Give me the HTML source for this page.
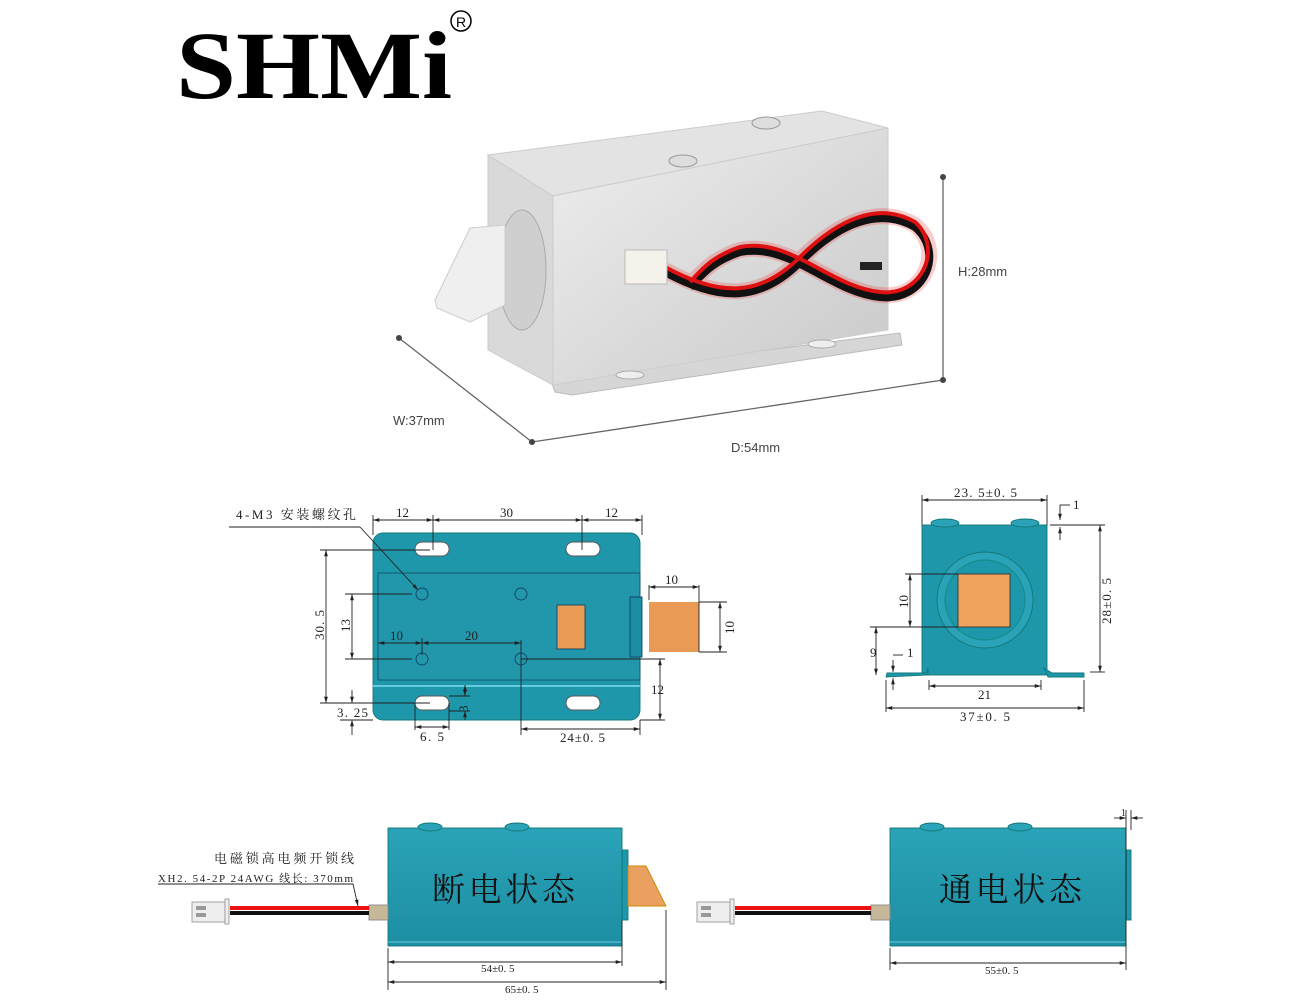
<!DOCTYPE html>
<html><head><meta charset="utf-8"><style>
html,body{margin:0;padding:0;background:#fff;}
svg{display:block;}
.s{font-family:"Liberation Serif","Noto Serif CJK SC",serif;fill:#222;}
.a{font-family:"Liberation Sans",sans-serif;fill:#444;font-size:13px;}
</style></head><body>
<svg width="1309" height="1000" viewBox="0 0 1309 1000" xmlns="http://www.w3.org/2000/svg">
<defs>
<marker id="ar" viewBox="0 0 10 10" refX="10" refY="5" markerWidth="7" markerHeight="7" orient="auto-start-reverse"><path d="M0,2 L10,5 L0,8 z" fill="#222"/></marker>
<linearGradient id="met" x1="0" y1="0" x2="1" y2="1"><stop offset="0" stop-color="#eeeeee"/><stop offset="1" stop-color="#c9c9c9"/></linearGradient>
<linearGradient id="tl" x1="0" y1="0" x2="0" y2="1"><stop offset="0" stop-color="#2aa3b8"/><stop offset="1" stop-color="#1d8ea3"/></linearGradient>
</defs>

<!-- Logo -->
<text x="176" y="98" font-family="Liberation Serif,serif" font-weight="bold" font-size="96" textLength="276" lengthAdjust="spacingAndGlyphs" fill="#000">SHMi</text>
<circle cx="461" cy="21" r="10" fill="none" stroke="#000" stroke-width="1.5"/>
<text x="461" y="27" font-family="Liberation Sans,sans-serif" font-size="14" text-anchor="middle">R</text>

<!-- Product photo -->
<g>
<line x1="399" y1="338" x2="532" y2="442" stroke="#666" stroke-width="1.3"/>
<line x1="532" y1="442" x2="943" y2="380" stroke="#666" stroke-width="1.3"/>
<line x1="943" y1="177" x2="943" y2="380" stroke="#666" stroke-width="1.3"/>
<circle cx="399" cy="338" r="3" fill="#444"/><circle cx="532" cy="442" r="3" fill="#444"/>
<circle cx="943" cy="380" r="3" fill="#444"/><circle cx="943" cy="177" r="3" fill="#444"/>
<polygon points="550,378 900,333 902,345 572,395 555,392" fill="#d6d6d6" stroke="#bbb"/>
<polygon points="488,155 822,111 888,128 553,196" fill="#e3e3e3" stroke="#ccc"/>
<polygon points="553,196 888,128 888,330 553,385" fill="url(#met)" stroke="#ccc"/>
<polygon points="488,155 553,196 553,385 488,350" fill="#d9d9d9" stroke="#ccc"/>
<ellipse cx="522" cy="270" rx="24" ry="60" fill="#cfcfcf" stroke="#aaa"/>
<polygon points="435,300 470,228 505,225 505,305 470,322 437,308" fill="#efefef" stroke="#ccc"/>
<ellipse cx="683" cy="161" rx="14" ry="6" fill="#ddd" stroke="#999"/>
<ellipse cx="766" cy="123" rx="14" ry="6" fill="#ddd" stroke="#999"/>
<ellipse cx="630" cy="375" rx="14" ry="4" fill="#eee" stroke="#aaa"/>
<ellipse cx="822" cy="344" rx="14" ry="4" fill="#eee" stroke="#aaa"/>
<path d="M665,270 C720,300 760,300 800,260 C840,220 880,205 915,225 C945,250 925,300 880,295 C830,290 790,240 740,250 C710,260 700,275 690,285" fill="none" stroke="#e33" stroke-width="16" opacity="0.25"/>
<path d="M665,272 C720,302 760,302 800,262 C840,222 880,207 915,227 C945,252 925,302 880,297 C830,292 790,242 740,252 C710,262 700,277 690,287" fill="none" stroke="#111" stroke-width="8"/>
<path d="M665,267 C720,297 760,297 800,257 C840,217 880,202 915,222 C943,247 923,297 880,292 C830,287 790,237 740,247 C710,257 700,272 690,282" fill="none" stroke="#d11" stroke-width="4"/>
<rect x="625" y="250" width="42" height="34" fill="#f4f2ea" stroke="#bbb"/>
<rect x="860" y="262" width="22" height="8" fill="#222"/>
<text x="958" y="276" class="a">H:28mm</text>
<text x="393" y="425" class="a">W:37mm</text>
<text x="731" y="452" class="a">D:54mm</text>
</g>

<g stroke="#222" stroke-width="0.9" fill="none">
<!-- Front view -->
<rect x="373" y="533" width="267" height="187" rx="10" fill="#1f97ab" stroke="#177"/>
<rect x="378" y="573" width="262" height="107" fill="#2296aa" stroke="#156"/>
<line x1="373" y1="686" x2="640" y2="686" stroke="#6cd" stroke-width="2"/>
<rect x="415" y="542" width="34" height="14" rx="7" fill="#fff" stroke="#555"/>
<rect x="566" y="542" width="34" height="14" rx="7" fill="#fff" stroke="#555"/>
<rect x="415" y="696" width="34" height="14" rx="7" fill="#fff" stroke="#555"/>
<rect x="566" y="696" width="34" height="14" rx="7" fill="#fff" stroke="#555"/>
<circle cx="422" cy="594" r="6" stroke="#146"/><circle cx="521" cy="594" r="6" stroke="#146"/>
<circle cx="422" cy="659" r="6" stroke="#146"/><circle cx="521" cy="659" r="6" stroke="#146"/>
<rect x="557" y="605" width="28" height="44" fill="#e99a55" stroke="#146"/>
<rect x="649" y="602" width="50" height="50" fill="#e99a55" stroke="none"/>
<rect x="630" y="597" width="12" height="60" fill="#1a8ea2" stroke="#146"/>
<line x1="373" y1="515" x2="373" y2="535"/><line x1="433" y1="515" x2="433" y2="550"/><line x1="582" y1="515" x2="582" y2="550"/><line x1="642" y1="515" x2="642" y2="535"/>
<line x1="373" y1="520" x2="433" y2="520" marker-start="url(#ar)" marker-end="url(#ar)"/>
<line x1="433" y1="520" x2="582" y2="520" marker-start="url(#ar)" marker-end="url(#ar)"/>
<line x1="582" y1="520" x2="642" y2="520" marker-start="url(#ar)" marker-end="url(#ar)"/>
<line x1="229" y1="527" x2="360" y2="527"/><line x1="360" y1="527" x2="418" y2="590" marker-end="url(#ar)"/>
<line x1="320" y1="550" x2="430" y2="550"/><line x1="320" y1="703" x2="430" y2="703"/>
<line x1="326" y1="550" x2="326" y2="703" marker-start="url(#ar)" marker-end="url(#ar)"/>
<line x1="345" y1="594" x2="412" y2="594"/><line x1="345" y1="659" x2="412" y2="659"/>
<line x1="352" y1="594" x2="352" y2="659" marker-start="url(#ar)" marker-end="url(#ar)"/>
<line x1="378" y1="643" x2="422" y2="643" marker-start="url(#ar)" marker-end="url(#ar)"/>
<line x1="422" y1="643" x2="521" y2="643" marker-start="url(#ar)" marker-end="url(#ar)"/>
<line x1="422" y1="638" x2="422" y2="655"/><line x1="521" y1="640" x2="521" y2="735"/>
<line x1="352" y1="690" x2="352" y2="703" marker-end="url(#ar)"/><line x1="352" y1="735" x2="352" y2="720" marker-end="url(#ar)"/>
<line x1="340" y1="720" x2="373" y2="720"/>
<line x1="465" y1="685" x2="465" y2="696" marker-start="url(#ar)" marker-end="url(#ar)"/>
<line x1="449" y1="696" x2="470" y2="696"/><line x1="449" y1="711" x2="470" y2="711"/><line x1="465" y1="711" x2="465" y2="720" marker-start="url(#ar)"/>
<line x1="415" y1="703" x2="415" y2="730"/><line x1="449" y1="703" x2="449" y2="730"/>
<line x1="415" y1="727" x2="449" y2="727" marker-start="url(#ar)" marker-end="url(#ar)"/>
<line x1="640" y1="720" x2="640" y2="735"/>
<line x1="521" y1="729" x2="640" y2="729" marker-start="url(#ar)" marker-end="url(#ar)"/>
<line x1="521" y1="659" x2="665" y2="659"/><line x1="640" y1="720" x2="665" y2="720"/>
<line x1="660" y1="659" x2="660" y2="720" marker-start="url(#ar)" marker-end="url(#ar)"/>
<line x1="649" y1="585" x2="649" y2="600"/><line x1="699" y1="585" x2="699" y2="652"/>
<line x1="649" y1="587" x2="699" y2="587" marker-start="url(#ar)" marker-end="url(#ar)"/>
<line x1="699" y1="602" x2="727" y2="602"/><line x1="699" y1="652" x2="727" y2="652"/>
<line x1="720" y1="602" x2="720" y2="652" marker-start="url(#ar)" marker-end="url(#ar)"/>

<!-- Side view -->
<rect x="922" y="525" width="125" height="150" fill="#1f97ab" stroke="#177"/>
<path d="M887,673 L926,673 L928,668 L928,675 L886,677 z" fill="#1f97ab" stroke="#177"/>
<path d="M1044,668 L1052,673 L1084,673 L1084,677 L1048,677 z" fill="#1f97ab" stroke="#177"/>
<circle cx="985" cy="600" r="48" fill="#2aa3b8" stroke="#177"/>
<circle cx="985" cy="600" r="40" fill="#1f97ab" stroke="#188"/>
<rect x="958" y="574" width="52" height="53" fill="#f0a35c" stroke="#333"/>
<ellipse cx="945" cy="523" rx="14" ry="4" fill="#2aa3b8" stroke="#177"/>
<ellipse cx="1025" cy="523" rx="14" ry="4" fill="#2aa3b8" stroke="#177"/>
<line x1="922" y1="495" x2="922" y2="525"/><line x1="1047" y1="495" x2="1047" y2="525"/>
<line x1="922" y1="500" x2="1047" y2="500" marker-start="url(#ar)" marker-end="url(#ar)"/>
<line x1="1050" y1="525" x2="1105" y2="525"/><line x1="1090" y1="672" x2="1105" y2="672"/>
<line x1="1100" y1="525" x2="1100" y2="672" marker-start="url(#ar)" marker-end="url(#ar)"/>
<line x1="1060" y1="505" x2="1060" y2="520" marker-end="url(#ar)"/><line x1="1060" y1="540" x2="1060" y2="527" marker-end="url(#ar)"/>
<line x1="1060" y1="505" x2="1070" y2="505"/>
<line x1="905" y1="574" x2="958" y2="574"/><line x1="870" y1="627" x2="958" y2="627"/>
<line x1="910" y1="574" x2="910" y2="627" marker-start="url(#ar)" marker-end="url(#ar)"/>
<line x1="876" y1="627" x2="876" y2="675" marker-start="url(#ar)" marker-end="url(#ar)"/>
<line x1="893" y1="660" x2="893" y2="672" marker-end="url(#ar)"/><line x1="893" y1="690" x2="893" y2="678" marker-end="url(#ar)"/>
<line x1="893" y1="655" x2="903" y2="655"/>
<line x1="929" y1="680" x2="929" y2="690"/><line x1="1041" y1="680" x2="1041" y2="690"/>
<line x1="929" y1="686" x2="1041" y2="686" marker-start="url(#ar)" marker-end="url(#ar)"/>
<line x1="886" y1="680" x2="886" y2="712"/><line x1="1084" y1="680" x2="1084" y2="712"/>
<line x1="886" y1="708" x2="1084" y2="708" marker-start="url(#ar)" marker-end="url(#ar)"/>

<!-- Bottom left -->
<rect x="388" y="828" width="234" height="118" fill="url(#tl)" stroke="#177"/>
<line x1="388" y1="942" x2="622" y2="942" stroke="#6cd"/>
<ellipse cx="430" cy="827" rx="12" ry="4" fill="#2aa3b8" stroke="#177"/>
<ellipse cx="517" cy="827" rx="12" ry="4" fill="#2aa3b8" stroke="#177"/>
<rect x="622" y="850" width="6" height="70" fill="#1f97ab" stroke="#177"/>
<polygon points="628,866 646,866 666,906 628,906" fill="#e9a060" stroke="#c80"/>
<rect x="369" y="905" width="19" height="15" fill="#c8b89a" stroke="#888"/>
<line x1="230" y1="908" x2="369" y2="908" stroke="#e11" stroke-width="4"/>
<line x1="230" y1="913" x2="369" y2="913" stroke="#111" stroke-width="4"/>
<rect x="192" y="902" width="33" height="20" fill="#eee" stroke="#999"/>
<rect x="225" y="899" width="4" height="25" fill="#eee" stroke="#999"/>
<rect x="196" y="906" width="10" height="4" fill="#999" stroke="none"/><rect x="196" y="913" width="10" height="4" fill="#999" stroke="none"/>
<line x1="158" y1="884" x2="353" y2="884"/><line x1="353" y1="884" x2="358" y2="906" marker-end="url(#ar)"/>
<line x1="388" y1="948" x2="388" y2="990"/><line x1="622" y1="920" x2="622" y2="966"/><line x1="666" y1="910" x2="666" y2="990"/>
<line x1="388" y1="962" x2="622" y2="962" marker-start="url(#ar)" marker-end="url(#ar)"/>
<line x1="388" y1="982" x2="666" y2="982" marker-start="url(#ar)" marker-end="url(#ar)"/>

<!-- Bottom right -->
<rect x="890" y="828" width="236" height="118" fill="url(#tl)" stroke="#177"/>
<line x1="890" y1="942" x2="1126" y2="942" stroke="#6cd"/>
<ellipse cx="932" cy="827" rx="12" ry="4" fill="#2aa3b8" stroke="#177"/>
<ellipse cx="1020" cy="827" rx="12" ry="4" fill="#2aa3b8" stroke="#177"/>
<rect x="1126" y="850" width="5" height="70" fill="#1f97ab" stroke="#177"/>
<rect x="871" y="905" width="19" height="15" fill="#c8b89a" stroke="#888"/>
<line x1="735" y1="908" x2="871" y2="908" stroke="#e11" stroke-width="4"/>
<line x1="735" y1="913" x2="871" y2="913" stroke="#111" stroke-width="4"/>
<rect x="697" y="902" width="33" height="20" fill="#eee" stroke="#999"/>
<rect x="730" y="899" width="4" height="25" fill="#eee" stroke="#999"/>
<rect x="701" y="906" width="10" height="4" fill="#999" stroke="none"/><rect x="701" y="913" width="10" height="4" fill="#999" stroke="none"/>
<line x1="890" y1="948" x2="890" y2="970"/><line x1="1126" y1="810" x2="1126" y2="970"/><line x1="1131" y1="810" x2="1131" y2="830"/>
<line x1="890" y1="963" x2="1126" y2="963" marker-start="url(#ar)" marker-end="url(#ar)"/>
<line x1="1114" y1="818" x2="1126" y2="818" marker-end="url(#ar)"/><line x1="1143" y1="818" x2="1131" y2="818" marker-end="url(#ar)"/>
</g>

<!-- labels -->
<g class="s" font-size="13">
<text x="236" y="519" textLength="120" lengthAdjust="spacing">4-M3 安装螺纹孔</text>
<text x="396" y="517">12</text><text x="500" y="517">30</text><text x="605" y="517">12</text>
<text x="665" y="584">10</text>
<text x="390" y="640">10</text><text x="465" y="640">20</text>
<text x="420" y="741" textLength="24">6. 5</text><text x="560" y="742" textLength="45">24±0. 5</text>
<text x="337" y="717" textLength="31">3. 25</text>
<text x="651" y="694">12</text>
<text transform="translate(324,640) rotate(-90)" textLength="30">30. 5</text>
<text transform="translate(350,632) rotate(-90)">13</text>
<text transform="translate(468,712) rotate(-90)">3</text>
<text transform="translate(734,634) rotate(-90)">10</text>
<text x="954" y="497" textLength="63">23. 5±0. 5</text>
<text x="1073" y="509">1</text><text x="907" y="657">1</text>
<text transform="translate(1111,624) rotate(-90)" textLength="46">28±0. 5</text>
<text transform="translate(908,608) rotate(-90)">10</text>
<text x="870" y="657">9</text>
<text x="978" y="699">21</text>
<text x="960" y="721" textLength="50">37±0. 5</text>
<text x="214" y="863" font-size="13" textLength="140" lengthAdjust="spacing">电磁锁高电频开锁线</text>
<text x="158" y="882" font-size="11" textLength="195" lengthAdjust="spacing">XH2. 54-2P 24AWG 线长: 370mm</text>
<text x="481" y="972" font-size="11">54±0. 5</text>
<text x="505" y="993" font-size="11">65±0. 5</text>
<text x="985" y="974" font-size="11">55±0. 5</text>
<text x="1121" y="816" font-size="10">1</text>
<text x="432" y="901" font-size="33" fill="#111" textLength="143" lengthAdjust="spacing">断电状态</text>
<text x="939" y="901" font-size="33" fill="#111" textLength="143" lengthAdjust="spacing">通电状态</text>
</g>
</svg>
</body></html>
